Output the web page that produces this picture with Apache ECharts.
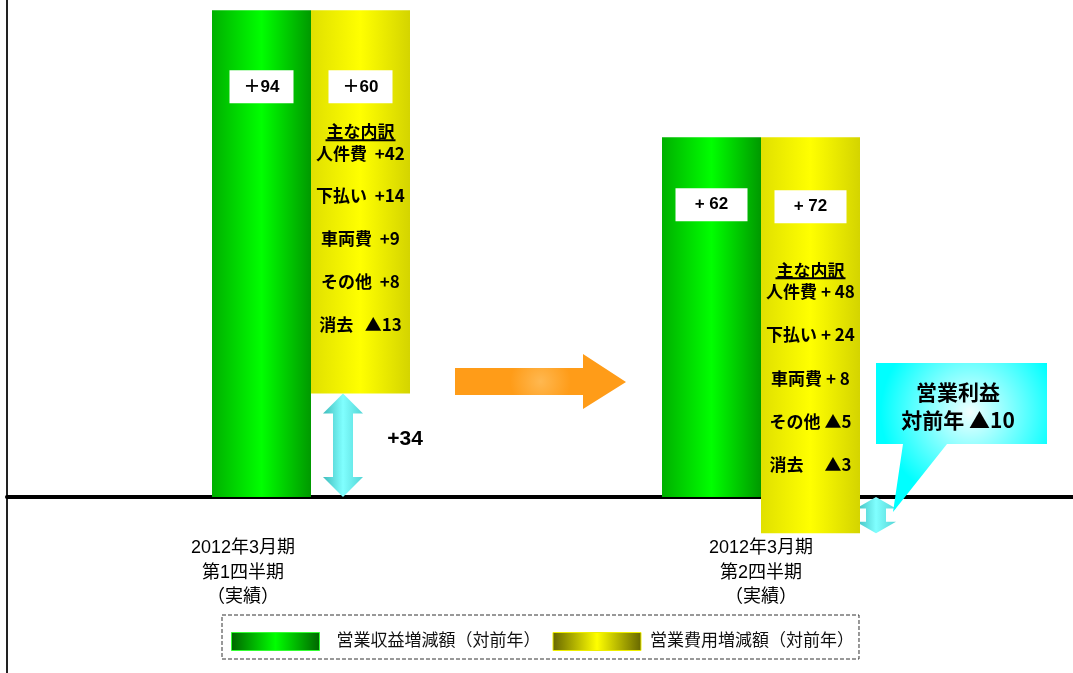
<!DOCTYPE html>
<html>
<head>
<meta charset="utf-8">
<script src="https://cdn.jsdelivr.net/npm/echarts@6/dist/echarts.min.js"></script>
<style>
html, body { margin: 0; padding: 0; background: #fff; }
#chart { width: 1073px; height: 673px; }
</style>
</head>
<body>
<div id="chart"></div>
<script>
// 期間（カテゴリ）
const periods = ['2012年3月期\n第1四半期\n（実績）', '2012年3月期\n第2四半期\n（実績）']
// 棒の描画範囲（元図は模式図のため、図上の高さを読み取った値）
const revenueTop = [94, 69.5]
const costBottom = [20, -7]
const costTop = [94, 69.5]
// 棒の中の数値ラベル
const revenueLabels = ['＋94', '+ 62']
const costLabels = ['＋60', '+ 72']
const breakdownHead = '主な内訳'
const breakdowns = [
    ['人件費  +42', '下払い  +14', '車両費  +9', 'その他  +8', '消去   ▲13'],
    ['人件費 + 48', '下払い + 24', '車両費 + 8', 'その他 ▲5', '消去　 ▲3']
]
// 営業利益の矢印 [カテゴリ, 始点, 終点]
const profitArrows = [[0, 20, 0], [1, 0, -7]]
const profitLabels = ['+34', '営業利益\n対前年 ▲10']
const legendNames = ['営業収益増減額（対前年）', '営業費用増減額（対前年）']

const FONT = '"Liberation Sans", "Noto Sans CJK JP", sans-serif'
const FONT_JP = '"Noto Sans CJK JP", "Liberation Sans", sans-serif'

function hGrad(edgeL, mid, edgeR) {
    return {
        type: 'linear', x: 0, y: 0, x2: 1, y2: 0,
        colorStops: [{ offset: 0, color: edgeL }, { offset: 0.5, color: mid }, { offset: 1, color: edgeR }]
    }
}

let dom = document.getElementById('chart')
let chart = echarts.init(dom)

// 費用棒の中のテキスト（ボックス + 主な内訳）
const costLayout = [
    { dist: 60, gap1: 'ga0', head: 'hd0', first: 'fr0', row: 'rw0' },
    { dist: 53, gap1: 'ga1', head: 'hd1', first: 'fr1', row: 'rw1' }
]
function costFormatter(p) {
    let i = p.dataIndex
    let L = costLayout[i]
    let rows = breakdowns[i]
    let s = '{box' + i + '|' + costLabels[i] + '}\n{' + L.gap1 + '|}\n{' + L.head + '|' + breakdownHead + '}\n{ul|}\n'
    s += '{' + L.first + '|' + rows[0] + '}\n{gb|}'
    for (let k = 1; k < rows.length; k++) {
        s += '\n{' + L.row + '|' + rows[k] + '}'
    }
    return s
}
const boxStyle = { height: 33, lineHeight: 33, backgroundColor: '#fff', align: 'center', fontSize: 17, fontWeight: 'bold', color: '#000', fontFamily: FONT }
const txt = { fontSize: 17, fontWeight: 'bold', color: '#000', fontFamily: FONT_JP }

let option = {
    backgroundColor: '#fff',
    animation: false,
    grid: [
        { left: 86, right: 87, top: 0, bottom: 0, outerBoundsMode: 'none', containLabel: false },
        { left: 7, right: 0, top: 0, bottom: 0, outerBoundsMode: 'none', containLabel: false }
    ],
    xAxis: [
        {
            type: 'category', gridIndex: 0, data: periods, position: 'bottom',
            axisLine: { show: false, onZero: false },
            axisTick: { show: false },
            axisLabel: {
                // 軸はグリッド下端(673px)にあるため、ゼロ線の下へ戻す
                interval: 0, margin: -137,
                formatter: (v, idx) => v.split('\n').map(s => '{c' + idx + '|' + s + '}').join('\n'),
                rich: {
                    c0: { fontSize: 18, lineHeight: 24.5, color: '#000', fontFamily: FONT, padding: [0, 136, 0, 0] },
                    c1: { fontSize: 18, lineHeight: 24.5, color: '#000', fontFamily: FONT }
                }
            }
        },
        {
            type: 'value', gridIndex: 1, min: 0, max: 1,
            axisLine: { show: true, onZero: true, lineStyle: { color: '#000', width: 4 } },
            axisTick: { show: false }, axisLabel: { show: false }, splitLine: { show: false }
        }
    ],
    yAxis: [
        {
            type: 'value', gridIndex: 0, min: -34, max: 96,
            axisLine: { show: false }, axisTick: { show: false }, axisLabel: { show: false }, splitLine: { show: false }
        },
        {
            type: 'value', gridIndex: 1, min: -34, max: 96,
            axisLine: { show: true, onZero: true, lineStyle: { color: '#222', width: 2 } },
            axisTick: { show: false }, axisLabel: { show: false }, splitLine: { show: false }
        }
    ],
    legend: {
        left: 222, top: 615,
        padding: [17, 5, 8, 9],
        itemWidth: 88, itemHeight: 18, itemGap: 12,
        borderColor: '#333', borderWidth: 1, borderType: 'dashed',
        textStyle: { fontSize: 17, color: '#111', fontFamily: FONT, padding: [0, 0, 0, 12] },
        data: [
            { name: legendNames[0], icon: 'rect', itemStyle: { color: hGrad('#006400', '#00ff00', '#006400'), borderColor: '#33ff33', borderWidth: 1 } },
            { name: legendNames[1], icon: 'rect', itemStyle: { color: hGrad('#666600', '#ffff00', '#666600'), borderColor: '#eeee00', borderWidth: 1 },
                textStyle: { padding: [0, 0, 0, 4] } }
        ]
    },
    graphic: [
        {
            type: 'polygon', z: 1,
            shape: { points: [[455, 368], [583, 368], [583, 354], [626, 382], [583, 409], [583, 395], [455, 395]] },
            style: {
                fill: { type: 'radial', x: 0.5, y: 0.5, r: 0.55, colorStops: [{ offset: 0, color: '#ffb850' }, { offset: 1, color: '#ff9c18' }] }
            }
        }
    ],
    series: [
        {
            name: legendNames[0], type: 'bar', xAxisIndex: 0, yAxisIndex: 0,
            barWidth: 99, barGap: '0%',
            itemStyle: { color: hGrad('#00b000', '#00ff00', '#009900') },
            label: {
                show: true, position: 'insideTop',
                formatter: p => '{g' + p.dataIndex + '|' + revenueLabels[p.dataIndex] + '}',
                rich: {
                    g0: Object.assign({ width: 64 }, boxStyle),
                    g1: Object.assign({ width: 72 }, boxStyle)
                }
            },
            data: revenueTop.map((v, i) => ({ value: v, label: { distance: [60, 51][i] } }))
        },
        {
            name: 'base', type: 'bar', xAxisIndex: 0, yAxisIndex: 0,
            stack: 'cost', stackStrategy: 'all', barWidth: 99, barGap: '0%', silent: true,
            itemStyle: { color: 'rgba(0,0,0,0)' },
            data: costBottom
        },
        {
            name: legendNames[1], type: 'bar', xAxisIndex: 0, yAxisIndex: 0,
            stack: 'cost', stackStrategy: 'all', barWidth: 99, barGap: '0%',
            itemStyle: { color: hGrad('#e0e000', '#ffff00', '#d4d400') },
            label: {
                show: true, position: 'insideTop',
                formatter: costFormatter,
                rich: {
                    box0: Object.assign({ width: 64 }, boxStyle),
                    box1: Object.assign({ width: 72 }, boxStyle),
                    ga0: { height: 20, lineHeight: 20, fontSize: 1 },
                    ga1: { height: 40, lineHeight: 40, fontSize: 1 },
                    hd0: Object.assign({ lineHeight: 16 }, txt),
                    hd1: Object.assign({ lineHeight: 14 }, txt),
                    ul: { width: 70, height: 2, lineHeight: 2, backgroundColor: '#000', fontSize: 1 },
                    fr0: Object.assign({ lineHeight: 24 }, txt),
                    fr1: Object.assign({ lineHeight: 25 }, txt),
                    gb: { height: 9, lineHeight: 9, fontSize: 1 },
                    rw0: Object.assign({ lineHeight: 43 }, txt),
                    rw1: Object.assign({ lineHeight: 43.3 }, txt)
                }
            },
            data: costTop.map((v, i) => ({ value: v - costBottom[i], label: { distance: costLayout[i].dist } }))
        },
        {
            name: 'profit', type: 'custom', xAxisIndex: 0, yAxisIndex: 0, z: 1,
            encode: { x: 0, y: [1, 2] },
            data: profitArrows,
            renderItem: function (params, api) {
                let i = params.dataIndex
                let cat = api.value(0)
                let a = api.coord([cat, api.value(1)])
                let b = api.coord([cat, api.value(2)])
                let cx = a[0] + [32, 115][i]
                let y0 = Math.min(a[1], b[1])
                let y1 = Math.max(a[1], b[1])
                let h = Math.min(20, (y1 - y0) * 0.32)
                let children = [{
                    type: 'polygon',
                    shape: {
                        points: [[cx, y0], [cx + 20, y0 + h], [cx + 10, y0 + h], [cx + 10, y1 - h], [cx + 20, y1 - h],
                            [cx, y1], [cx - 20, y1 - h], [cx - 10, y1 - h], [cx - 10, y0 + h], [cx - 20, y0 + h]]
                    },
                    style: { fill: hGrad('#3fbcbc', '#80ffff', '#55d5d5') }
                }]
                if (i === 0) {
                    children.push({
                        type: 'text',
                        style: { text: profitLabels[0], x: cx + 62, y: (y0 + y1) / 2 - 6, align: 'center', verticalAlign: 'middle',
                            font: 'bold 21px ' + FONT, fill: '#000' }
                    })
                } else {
                    let L = cx, R = cx + 171, T = y0 - 134, B = y0 - 53
                    children.push({
                        type: 'polygon',
                        shape: { points: [[L, T], [R, T], [R, B], [cx + 71, B], [cx + 17, y0 + 15], [cx + 27, B], [L, B]] },
                        style: {
                            fill: { type: 'radial', x: 0.55, y: 0.33, r: 0.6, colorStops: [{ offset: 0, color: '#f2ffff' }, { offset: 1, color: '#00ffff' }] }
                        }
                    })
                    children.push({
                        type: 'text',
                        style: { text: profitLabels[1], x: cx + 82, y: y0 - 91, align: 'center', verticalAlign: 'middle',
                            lineHeight: 28, font: 'bold 21px ' + FONT_JP, fill: '#000' }
                    })
                }
                return { type: 'group', children: children }
            }
        }
    ]
}
option && chart.setOption(option)
window.addEventListener('resize', () => chart.resize())
</script>
</body>
</html>
